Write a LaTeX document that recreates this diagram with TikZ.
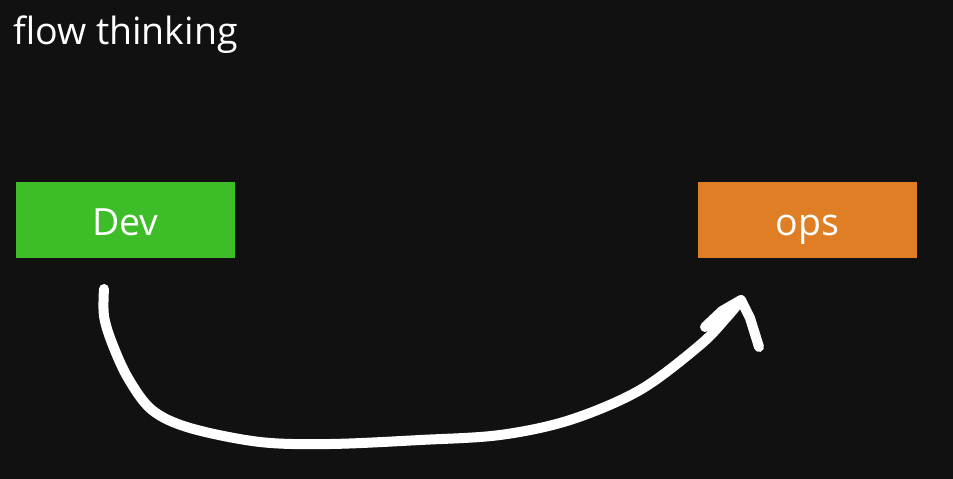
\documentclass[tikz,border=0pt]{standalone}
\usepackage{fontspec}
\setmainfont{Open Sans}
\definecolor{bg}{HTML}{111111}
\definecolor{devgreen}{HTML}{3DBE29}
\definecolor{opsorange}{HTML}{E07E26}
\tikzset{
  box/.style={draw=none, minimum width=219pt, minimum height=76pt, inner sep=0pt},
  lbl/.style={text=white, font=\fontsize{37.5}{44}\selectfont, inner sep=0pt, anchor=base},
  stroke/.style={white, line width=10pt, line cap=round, line join=round}
}
\begin{document}
\begin{tikzpicture}[x=1pt,y=-1pt]
\fill[bg] (0,0) rectangle (953,479);
\useasboundingbox (0,0) rectangle (953,479);
\node[lbl, anchor=base west] (title) at (13,44) {flow thinking};
\node[box, fill=devgreen] (dev) at (125.5,220) {};
\node[box, fill=opsorange] (ops) at (807.5,220) {};
\node[lbl] (devt) at (125.5,235) {Dev};
\node[lbl] (opst) at (807.5,235) {ops};
\coordinate (s) at (104,289);
\coordinate (t) at (741,300);
\coordinate (lw) at (705,327);
\coordinate (rw) at (759,347);
\draw[stroke] plot[smooth, tension=0.55] coordinates {(s) (104,316) (112,343) (128,378) (152,410) (190,428) (260,442) (330,444) (420,440) (500,435) (570,420) (640,390) (700,345) (727,317) (t)};
\draw[stroke] (lw) -- (722,311) -- (t) -- (750,318) -- (rw);
\end{tikzpicture}
\end{document}
